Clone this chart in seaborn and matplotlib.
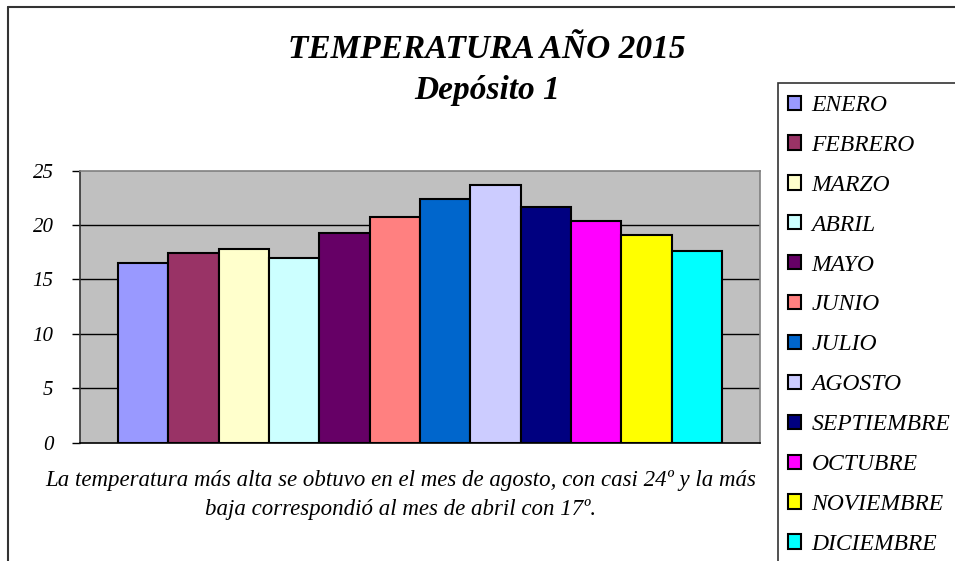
import matplotlib.pyplot as plt
import seaborn as sns
import pandas as pd
from matplotlib.patches import Rectangle
from matplotlib.lines import Line2D

meses = ["ENERO", "FEBRERO", "MARZO", "ABRIL", "MAYO", "JUNIO", "JULIO",
         "AGOSTO", "SEPTIEMBRE", "OCTUBRE", "NOVIEMBRE", "DICIEMBRE"]
temperaturas = [16.5, 17.4, 17.8, 17.0, 19.3, 20.7, 22.4, 23.7, 21.65, 20.4, 19.05, 17.65]
colores = ["#9999FF", "#993366", "#FFFFCC", "#CCFFFF", "#660066", "#FF8080",
           "#0066CC", "#CCCCFF", "#000080", "#FF00FF", "#FFFF00", "#00FFFF"]
y_ticks = [0, 5, 10, 15, 20, 25]

titulo = "TEMPERATURA AÑO 2015"
subtitulo = "Depósito 1"
nota = ("La temperatura más alta se obtuvo en el mes de agosto, con casi 24º y la más\n"
        "baja correspondió al mes de abril con 17º.")

sns.set_style("white")
plt.rcParams['font.family'] = ['Liberation Serif', 'DejaVu Serif']
plt.rcParams['text.color'] = 'black'
plt.rcParams['ytick.color'] = 'black'

df = pd.DataFrame({"mes": meses, "temp": temperaturas})

fig = plt.figure(figsize=(9.55, 5.61), dpi=100)
ax = fig.add_axes([80 / 955, 1 - 442.7 / 561, 680 / 955, 272 / 561])
ax.set_facecolor("#C0C0C0")

sns.barplot(data=df, x="mes", y="temp", hue="mes", palette=colores, order=meses,
            hue_order=meses, width=1.0, saturation=1, edgecolor="black", linewidth=1.5,
            legend=True, ax=ax, zorder=3)
handles, labels = ax.get_legend_handles_labels()
if ax.legend_ is not None:
    ax.legend_.remove()

ax.set_xlim(-1.25, 12.25)
ax.set_ylim(0, 25)
ax.set_yticks(y_ticks)
ax.set_yticklabels([str(t) for t in y_ticks], fontsize=15, fontstyle="italic")
ax.set_xticks([])
ax.set_xlabel("")
ax.set_ylabel("")
ax.tick_params(axis="y", length=6, width=1, color="black", pad=13, left=True)
for t in y_ticks[1:-1]:
    ax.axhline(t, color="black", linewidth=1, zorder=1)
ax.spines["top"].set_color("#808080")
ax.spines["right"].set_color("#808080")
ax.spines["left"].set_color("#333333")
ax.spines["bottom"].set_color("black")
for s in ax.spines.values():
    s.set_linewidth(1.2)

# titles
fig.text(487 / 955, 1 - 49 / 561, titulo, ha="center", va="center",
         fontsize=24, fontweight="bold", fontstyle="italic")
fig.text(487 / 955, 1 - 91 / 561, subtitulo, ha="center", va="center",
         fontsize=24, fontweight="bold", fontstyle="italic")

# caption
fig.text(401 / 955, 1 - 495 / 561, nota, ha="center", va="center",
         fontsize=16.5, fontstyle="italic", linespacing=1.55)

# outer frame lines
fig.add_artist(Line2D([8 / 955, 8 / 955], [0, 1 - 7 / 561], color="#333333", lw=1.5))
fig.add_artist(Line2D([8 / 955, 1], [1 - 7 / 561, 1 - 7 / 561], color="#333333", lw=1.5))

# legend box
fig.add_artist(Rectangle((778 / 955, -0.01), 0.2, 1 - 83 / 561 + 0.01,
                         transform=fig.transFigure, fill=False,
                         edgecolor="#333333", lw=1.2))
fig.legend(handles, labels, loc="upper left", bbox_to_anchor=(788 / 955, 1 - 95 / 561),
           frameon=False, prop={"style": "italic", "size": 17},
           handlelength=0.55, handleheight=0.55, handletextpad=0.45,
           labelspacing=0.8, borderpad=0, borderaxespad=0)

fig.savefig("out.png", dpi=100)
